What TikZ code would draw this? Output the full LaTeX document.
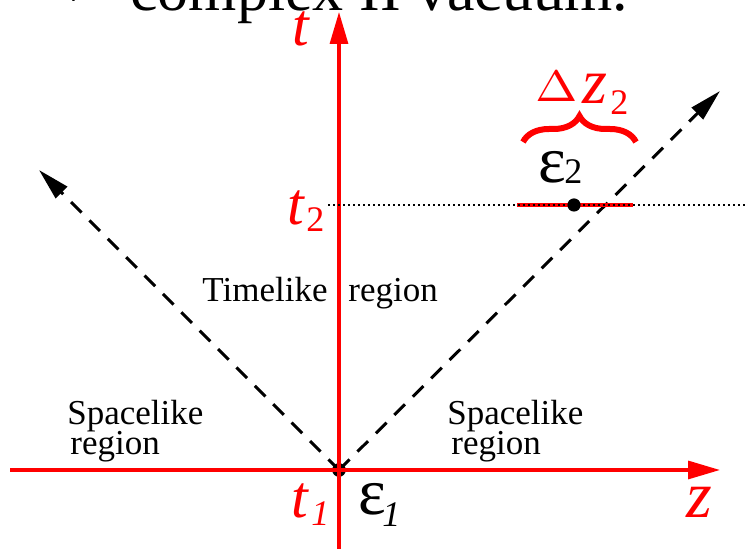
\documentclass[tikz,border=0pt]{standalone}
\usepackage{fontspec}
\setmainfont{Liberation Serif}
\usetikzlibrary{arrows.meta,decorations.pathreplacing}
\begin{document}
\begin{tikzpicture}[x=0.5pt,y=-0.5pt,
  axis/.style={red, line width=1.6pt, -{Triangle[length=16pt,width=9pt]}},
  cone/.style={black, line width=1.5pt, dash pattern=on 7.5pt off 5.5pt, -{Triangle[length=16pt,width=8pt]}},
  lbl/.style={inner sep=0pt, anchor=base west, font=\fontsize{17.5}{21}\selectfont},
  big/.style={inner sep=0pt, anchor=base west, font=\fontsize{33}{36}\selectfont},
  bigit/.style={inner sep=0pt, anchor=base west, red, font=\fontsize{30}{36}\selectfont\itshape},
  subr/.style={inner sep=0pt, anchor=base west, red, font=\fontsize{18}{20}\selectfont},
  subk/.style={inner sep=0pt, anchor=base west, black, font=\fontsize{18}{20}\selectfont},
  dotk/.style={fill=black}
]
\clip (0,0) rectangle (746,549);
% top caption (cut off)
\node[inner sep=0pt, anchor=base west, font=\fontsize{31}{36}\selectfont] (cap) at (130,11) {complex II vacuum.};
\node[inner sep=0pt, anchor=base east, font=\fontsize{31}{36}\selectfont] (arr) at (96,5) {→};
% coordinates
\coordinate (O) at (339,470);
\coordinate (zL) at (10,470);
\coordinate (zR) at (720,470);
\coordinate (tB) at (339,552);
\coordinate (tT) at (339,12);
\coordinate (Lt) at (39,170);
\coordinate (Rt) at (720,91);
\coordinate (d1) at (328,205);
\coordinate (d2) at (746,205);
\coordinate (r1) at (517,205);
\coordinate (r2) at (633,205);
\coordinate (E2) at (574,205);
\coordinate (B1) at (523,142);
\coordinate (B2) at (636,142);
% light cone
\draw[cone] (O) -- (Lt);
\draw[cone] (O) -- (Rt);
\fill[dotk] (O) circle (3.4pt);
% axes
\draw[axis] (zL) -- (zR);
\draw[axis] (tB) -- (tT);
% t2 line
\draw[red, line width=1.6pt] (r1) -- (r2);
\draw[black, line width=1.1pt, dash pattern=on 1.2pt off 1.3pt] (d1) -- (d2);
\fill[dotk] (E2) circle (3.3pt);
% brace
\draw[red, line width=3pt, decorate, decoration={brace, amplitude=13pt}] (B1) -- (B2);
% labels
\node[bigit] (tl) at (292,46) {t};
\node[bigit] (t2) at (287,225) {t};
\node[subr] (t2s) at (306,232) {2};
\node[bigit] (t1) at (291,518) {t};
\node[subr, font=\fontsize{18}{20}\selectfont\itshape] (t1s) at (311,526) {1};
\node[big] (e1) at (358,515) {ε};
\node[subk, font=\fontsize{18}{20}\selectfont\itshape] (e1s) at (382,527) {1};
\node[big] (e2) at (538,183) {ε};
\node[subk] (e2s) at (564,184) {2};
\node[bigit, font=\fontsize{33}{36}\selectfont\itshape] (zl) at (686,518) {z};
\node[inner sep=0pt, anchor=base west, red] (dl) at (535,102) {\resizebox{21pt}{15pt}{$\Delta$}};
\node[inner sep=0pt, anchor=base west, red, font=\fontsize{32}{34}\selectfont\itshape] (dz) at (582,104) {z};
\node[subr] (dzs) at (610,115) {2};
\node[lbl] (tim) at (202,302) {Timelike};
\node[lbl] (tim2) at (348,302) {region};
\node[lbl] (sl1) at (67,425) {Spacelike};
\node[lbl] (sl2) at (70,455) {region};
\node[lbl] (sr1) at (447,425) {Spacelike};
\node[lbl] (sr2) at (451,455) {region};
\end{tikzpicture}
\end{document}
